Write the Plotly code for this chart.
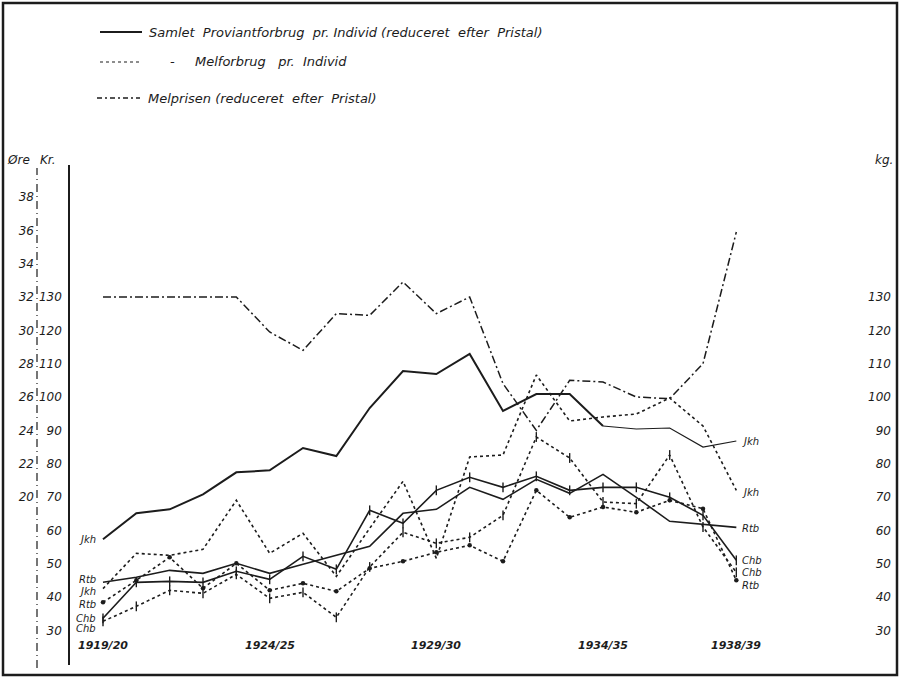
import plotly.graph_objects as go

W, H = 903, 678

seasons = ["1919/20", "1920/21", "1921/22", "1922/23", "1923/24", "1924/25", "1925/26",
           "1926/27", "1927/28", "1928/29", "1929/30", "1930/31", "1931/32", "1932/33",
           "1933/34", "1934/35", "1935/36", "1936/37", "1937/38", "1938/39"]

# Samlet Proviantforbrug pr. Individ (reduceret efter Pristal), Kr.
samlet_jkh = [57.3, 65.1, 66.3, 70.8, 77.4, 78.0, 84.7, 82.3, 96.7, 107.8,
              106.9, 112.9, 95.8, 100.9, 100.9, 91.3, 90.4, 90.7, 85.0, 86.8]
samlet_rtb = [44.4, 45.9, 48.0, 47.1, 50.1, 47.1, 49.8, 52.5, 55.2, 65.1,
              66.3, 72.9, 69.3, 75.3, 71.1, 76.8, 69.9, 62.7, 61.8, 60.9]
samlet_chb = [33.6, 44.4, 44.7, 44.4, 47.7, 45.3, 52.2, 48.3, 66.0, 62.1,
              72.0, 75.9, 72.9, 76.2, 72.0, 72.9, 72.9, 69.9, 64.5, 51.0]

# Melforbrug pr. Individ, kg
mel_jkh = [42.5, 53.1, 52.5, 54.3, 69.0, 53.1, 59.1, 46.2, 60.6, 74.7,
           51.6, 82.0, 82.6, 106.6, 92.8, 94.0, 94.9, 99.7, 91.3, 72.0]
mel_rtb = [38.4, 45.0, 51.9, 42.6, 50.1, 42.0, 44.1, 41.7, 48.6, 50.7,
           53.4, 55.5, 50.7, 72.0, 63.9, 67.0, 65.4, 69.0, 66.5, 45.0]
mel_chb = [32.7, 37.2, 42.0, 41.1, 46.8, 39.6, 41.4, 33.9, 49.0, 59.4,
           56.1, 57.9, 64.5, 88.0, 81.7, 68.5, 68.0, 82.6, 61.0, 47.4]

# Melprisen (reduceret efter Pristal), Øre
melpris = [32.0, 32.0, 32.0, 32.0, 32.0, 29.9, 28.8, 31.0, 30.9, 32.9,
           31.0, 32.0, 26.8, 24.0, 27.0, 26.9, 26.0, 25.9, 28.0, 35.9]

kg_ticks = [30, 40, 50, 60, 70, 80, 90, 100, 110, 120, 130]
ore_ticks = [20, 22, 24, 26, 28, 30, 32, 34, 36, 38]
year_tick_idx = [0, 5, 10, 15, 19]
year_tick_text = ["1919/20", "1924/25", "1929/30", "1934/35", "1938/39"]

INK = "#1c1c1c"
FONT = "DejaVu Sans"


def fx(px):
    return px / W


def fy(py):
    return 1 - py / H


x_idx = list(range(len(seasons)))
kg_range = [19.6, 169.6]
ore_range = [20 + (kg_range[0] - 70) / 5, 20 + (kg_range[1] - 70) / 5]

fig = go.Figure()


def add_line(xs, vals, dash, width=1.5, yaxis="y", marker=None):
    kw = dict(mode="lines")
    if marker is not None:
        kw["mode"] = "lines+markers"
        kw["marker"] = marker
    fig.add_trace(go.Scatter(x=xs, y=vals, yaxis=yaxis, showlegend=False,
                             line=dict(color=INK, width=width, dash=dash),
                             hoverinfo="skip", **kw))


tick_marker = dict(symbol="line-ns", size=7, color=INK, line=dict(color=INK, width=1.4))
dot_marker = dict(symbol="circle", size=4.5, color=INK)

add_line(x_idx, melpris, "8px,3px,2px,3px", 1.5, yaxis="y2")
add_line(x_idx, mel_jkh, "dot", 1.6)
add_line(x_idx, mel_rtb, "dot", 1.6, marker=dot_marker)
add_line(x_idx, mel_chb, "dot", 1.6, marker=tick_marker)
# Jkh total: heavy line up to 1934/35, thin line afterwards (as drawn in the original)
add_line(x_idx[:16], samlet_jkh[:16], "solid", 2.0)
add_line(x_idx[15:], samlet_jkh[15:], "solid", 1.2)
add_line(x_idx, samlet_rtb, "solid", 1.6)
add_line(x_idx, samlet_chb, "solid", 1.6, marker=tick_marker)

tickfont = dict(family=FONT, size=12, color=INK, style="italic")

fig.update_layout(
    width=W, height=H,
    margin=dict(l=0, r=0, t=0, b=0),
    paper_bgcolor="white", plot_bgcolor="white",
    showlegend=False,
    xaxis=dict(domain=[fx(70), fx(897)], range=[-0.99, 23.82], visible=False,
               fixedrange=True),
    yaxis=dict(domain=[fy(665), fy(165)], range=kg_range, tickvals=kg_ticks,
               ticktext=[str(v) for v in kg_ticks], tickfont=tickfont,
               showgrid=False, zeroline=False, showline=True, linecolor=INK,
               linewidth=1.6, ticks="", automargin=False, ticklabelstandoff=4),
    yaxis2=dict(overlaying="y", anchor="free", position=fx(37), side="left",
                range=ore_range, tickvals=ore_ticks,
                ticktext=[str(v) for v in ore_ticks], tickfont=tickfont,
                showgrid=False, zeroline=False, showline=False, ticks="",
                automargin=False, ticklabelstandoff=3),
    yaxis3=dict(overlaying="y", anchor="x", side="right", range=kg_range,
                tickvals=kg_ticks, ticktext=[str(v) for v in kg_ticks],
                tickfont=tickfont, ticklabelposition="inside",
                showgrid=False, zeroline=False, showline=False, ticks="",
                automargin=False, ticklabelstandoff=3),
)
# invisible trace to show the right-hand axis
fig.add_trace(go.Scatter(x=[None], y=[None], yaxis="y3", showlegend=False))

shapes = []
# outer frame
shapes.append(dict(type="rect", xref="paper", yref="paper", x0=fx(3), x1=fx(897),
                   y0=fy(675), y1=fy(3), line=dict(color=INK, width=2.5)))
# dashed øre axis
shapes.append(dict(type="line", xref="paper", yref="paper", x0=fx(37), x1=fx(37),
                   y0=fy(668), y1=fy(168), line=dict(color=INK, width=1.2, dash="8px,4px,1px,4px")))

# legend samples
shapes.append(dict(type="line", xref="paper", yref="paper", x0=fx(100), x1=fx(142),
                   y0=fy(32), y1=fy(32), line=dict(color=INK, width=2)))
shapes.append(dict(type="line", xref="paper", yref="paper", x0=fx(100), x1=fx(140),
                   y0=fy(62), y1=fy(62), line=dict(color=INK, width=1.2, dash="dot")))
shapes.append(dict(type="line", xref="paper", yref="paper", x0=fx(97), x1=fx(140),
                   y0=fy(98), y1=fy(98), line=dict(color=INK, width=1.5, dash="5px,3px,2px,3px")))
fig.update_layout(shapes=shapes)

legfont = dict(family=FONT, size=13, color=INK, style="italic")
ann = []
ann.append(dict(text="Samlet  Proviantforbrug  pr. Individ (reduceret  efter  Pristal)",
                x=fx(147), y=fy(32), xref="paper", yref="paper", xanchor="left",
                yanchor="middle", showarrow=False, font=legfont))
ann.append(dict(text="-", x=fx(168), y=fy(62), xref="paper", yref="paper", xanchor="left",
                yanchor="middle", showarrow=False, font=legfont))
ann.append(dict(text="Melforbrug   pr.  Individ", x=fx(193), y=fy(62), xref="paper",
                yref="paper", xanchor="left", yanchor="middle", showarrow=False, font=legfont))
ann.append(dict(text="Melprisen (reduceret  efter  Pristal)", x=fx(146), y=fy(98),
                xref="paper", yref="paper", xanchor="left", yanchor="middle",
                showarrow=False, font=legfont))

# unit labels
ann.append(dict(text="Øre", x=fx(5), y=fy(160), xref="paper", yref="paper", xanchor="left",
                yanchor="middle", showarrow=False, font=tickfont))
ann.append(dict(text="Kr.", x=fx(38), y=fy(160), xref="paper", yref="paper", xanchor="left",
                yanchor="middle", showarrow=False, font=tickfont))
ann.append(dict(text="kg.", x=fx(895), y=fy(160), xref="paper", yref="paper", xanchor="right",
                yanchor="middle", showarrow=False, font=tickfont))

# season labels along the bottom
yearfont = dict(family=FONT, size=11, color=INK, style="italic", weight="bold")
for i, t in zip(year_tick_idx, year_tick_text):
    ann.append(dict(text=t, x=i, y=fy(645), xref="x", yref="paper", xanchor="center",
                    yanchor="middle", showarrow=False, font=yearfont))

# station labels at the ends of the lines
labfont = dict(family=FONT, size=10, color=INK, style="italic")
left_labels = [("Jkh", samlet_jkh, 0), ("Rtb", samlet_rtb, 3), ("Jkh", mel_jkh, -3),
               ("Rtb", mel_rtb, -2), ("Chb", samlet_chb, 0), ("Chb", mel_chb, -7)]
for name, vals, ys in left_labels:
    ann.append(dict(text=name, x=0, y=vals[0], xref="x", yref="y", xanchor="right",
                    yanchor="middle", xshift=-5, yshift=ys, showarrow=False, font=labfont))
right_labels = [("Jkh", samlet_jkh, 0), ("Jkh", mel_jkh, -2), ("Rtb", samlet_rtb, -1),
                ("Chb", samlet_chb, 0), ("Chb", mel_chb, 0), ("Rtb", mel_rtb, -5)]
for name, vals, ys in right_labels:
    ann.append(dict(text=name, x=19, y=vals[-1], xref="x", yref="y", xanchor="left",
                    yanchor="middle", xshift=4, yshift=ys, showarrow=False, font=labfont))

fig.update_layout(annotations=ann)

fig.write_html("out.html", config={"displayModeBar": False},
               post_script="document.body.style.margin='0';")
